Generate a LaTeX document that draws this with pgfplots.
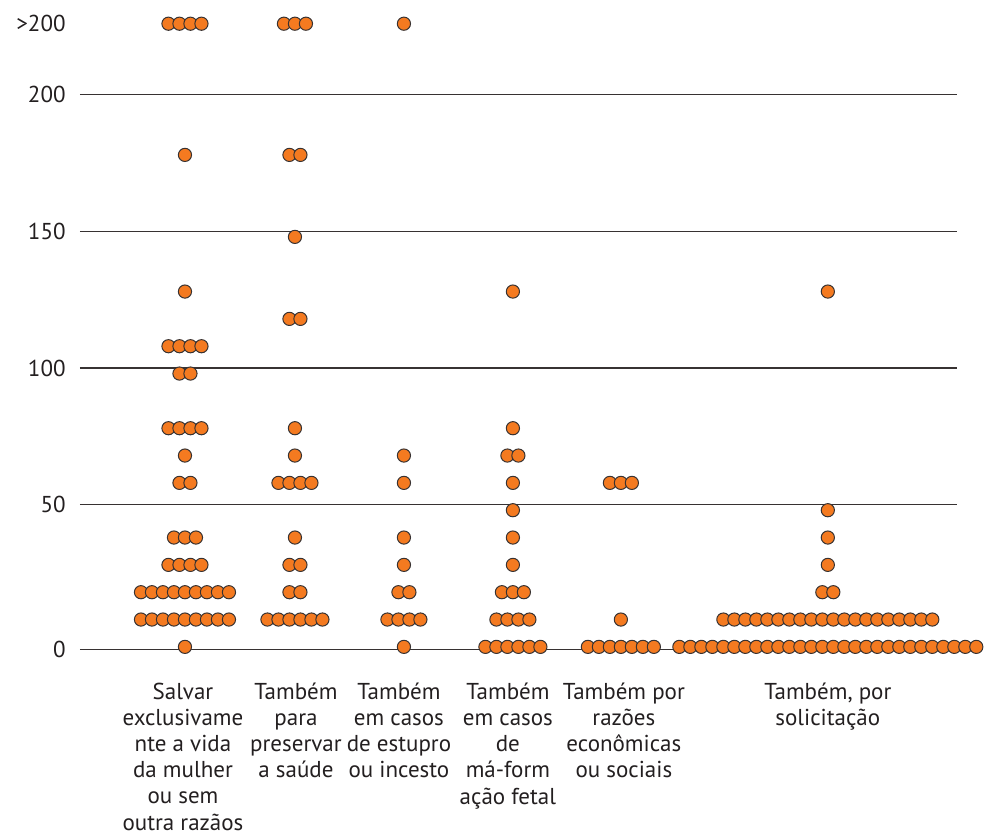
\documentclass[border=0pt]{standalone}
\usepackage{fontspec}
\setmainfont{PT Sans}
\usepackage{pgfplots}
\pgfplotsset{compat=1.18}
\definecolor{dotfill}{RGB}{244,122,32}
\definecolor{dotline}{RGB}{55,50,50}
\definecolor{txt}{RGB}{35,31,32}
\begin{document}
\begin{tikzpicture}
\begin{axis}[
    scale only axis,
    width=452pt, height=331.6pt,
    xmin=80, xmax=984,
    ymin=-8, ymax=234.6,
    clip=false,
    axis line style={draw=none},
    major tick length=0pt,
    ytick={-3,50,100,150,200,226.2},
    yticklabels={0,50,100,150,200,>200},
    yticklabel style={font=\fontsize{11.5}{13}\selectfont, text=txt, inner sep=0pt, anchor=east, xshift=-7pt},
    xtick={183,296,399,508,624,828},
    xticklabels={
        {Salvar\\exclusivame\\nte a vida\\da mulher\\ou sem\\outra razãos},
        {Também\\para\\preservar\\a saúde},
        {Também\\em casos\\de estupro\\ou incesto},
        {Também\\em casos\\de\\má-form\\ação fetal},
        {Também por\\razões\\econômicas\\ou sociais},
        {Também, por\\solicitação}},
    xticklabel style={font=\fontsize{11.5}{13.1}\selectfont, text=txt, align=center, anchor=north, inner sep=0pt, yshift=-9.5pt},
    gridline/.style={dotline, line width=0.7pt, mark=none},
    dots/.style={only marks, mark=*, mark size=3.3pt,
        mark options={fill=dotfill, draw=dotline, line width=0.5pt}},
]
% invisible frame: the whole picture
\path (axis cs:0,234.6) rectangle (axis cs:984,-70.5);

% grid lines
\addplot[gridline] coordinates {(80,-3)(957,-3)};
\addplot[gridline] coordinates {(80,50)(957,50)};
\addplot[gridline] coordinates {(80,100)(957,100)};
\addplot[gridline] coordinates {(80,150)(957,150)};
\addplot[gridline] coordinates {(80,200)(957,200)};

% Salvar exclusivamente a vida da mulher
\addplot[dots] coordinates {
(168.5,226)(179.5,226)(190.5,226)(201.5,226)
(185,178)
(185,128)
(168.5,108)(179.5,108)(190.5,108)(201.5,108)
(179.5,98)(190.5,98)
(168.5,78)(179.5,78)(190.5,78)(201.5,78)
(185,68)
(179.5,58)(190.5,58)
(174,38)(185,38)(196,38)
(168.5,28)(179.5,28)(190.5,28)(201.5,28)
(141,18)(152,18)(163,18)(174,18)(185,18)(196,18)(207,18)(218,18)(229,18)
(141,8)(152,8)(163,8)(174,8)(185,8)(196,8)(207,8)(218,8)(229,8)
(185,-2)
};
% Também para preservar a saúde
\addplot[dots] coordinates {
(284,226)(295,226)(306,226)
(289.5,178)(300.5,178)
(295,148)
(289.5,118)(300.5,118)
(295,78)
(295,68)
(278.5,58)(289.5,58)(300.5,58)(311.5,58)
(295,38)
(289.5,28)(300.5,28)
(289.5,18)(300.5,18)
(267.5,8)(278.5,8)(289.5,8)(300.5,8)(311.5,8)(322.5,8)
};
% Também em casos de estupro ou incesto
\addplot[dots] coordinates {
(404,226)
(404,68)(404,58)(404,38)(404,28)
(398.5,18)(409.5,18)
(387.5,8)(398.5,8)(409.5,8)(420.5,8)
(404,-2)
};
% Também em casos de má-formação fetal
\addplot[dots] coordinates {
(513,128)
(513,78)
(507.5,68)(518.5,68)
(513,58)(513,48)(513,38)(513,28)
(502,18)(513,18)(524,18)
(496.5,8)(507.5,8)(518.5,8)(529.5,8)
(485.5,-2)(496.5,-2)(507.5,-2)(518.5,-2)(529.5,-2)(540.5,-2)
};
% Também por razões econômicas ou sociais
\addplot[dots] coordinates {
(610,58)(621,58)(632,58)
(621,8)
(588,-2)(599,-2)(610,-2)(621,-2)(632,-2)(643,-2)(654,-2)
};
% Também, por solicitação
\addplot[dots] coordinates {
(828,128)
(828,48)(828,38)(828,28)
(822.5,18)(833.5,18)
(723.5,8)(734.5,8)(745.5,8)(756.5,8)(767.5,8)(778.5,8)(789.5,8)(800.5,8)(811.5,8)(822.5,8)
(833.5,8)(844.5,8)(855.5,8)(866.5,8)(877.5,8)(888.5,8)(899.5,8)(910.5,8)(921.5,8)(932.5,8)
(679.5,-2)(690.5,-2)(701.5,-2)(712.5,-2)(723.5,-2)(734.5,-2)(745.5,-2)(756.5,-2)(767.5,-2)(778.5,-2)
(789.5,-2)(800.5,-2)(811.5,-2)(822.5,-2)(833.5,-2)(844.5,-2)(855.5,-2)(866.5,-2)(877.5,-2)(888.5,-2)
(899.5,-2)(910.5,-2)(921.5,-2)(932.5,-2)(943.5,-2)(954.5,-2)(965.5,-2)(976.5,-2)
};
\end{axis}
\end{tikzpicture}
\end{document}
